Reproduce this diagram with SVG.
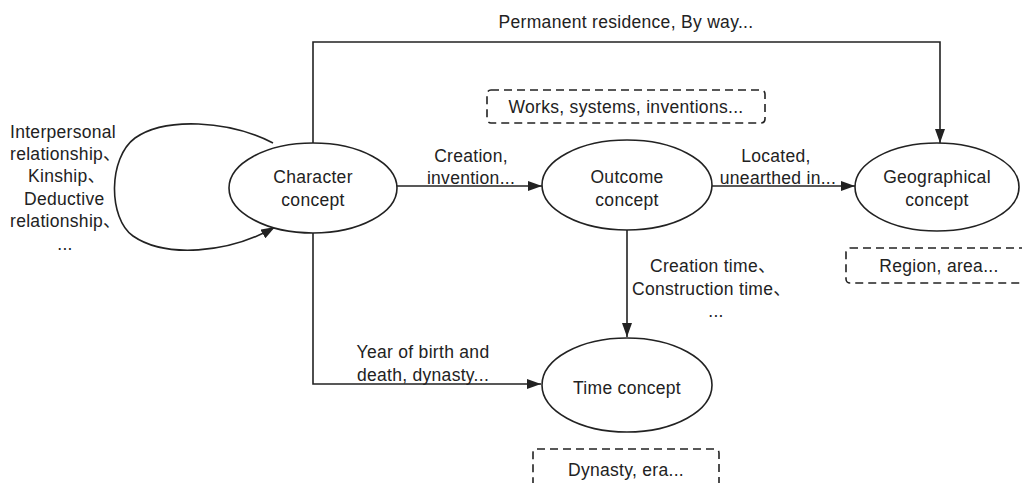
<svg xmlns="http://www.w3.org/2000/svg" width="1022" height="483" viewBox="0 0 1022 483">
<style>
text{font-family:"Liberation Sans","Noto Sans CJK SC",sans-serif;font-size:17.5px;letter-spacing:0.3px;fill:#222;text-anchor:middle}
text.s{text-anchor:start}
.node{fill:#fff;stroke:#222;stroke-width:1.6}
.edge{fill:none;stroke:#222;stroke-width:1.6}
.note{fill:#fff;stroke:#222;stroke-width:1.6;stroke-dasharray:8 5}
</style>
<defs>
<marker id="arr" viewBox="0 0 14 10" refX="14" refY="5" markerWidth="14" markerHeight="10" markerUnits="userSpaceOnUse" orient="auto">
<path d="M0,0 L14,5 L0,10 Z" fill="#222"/>
</marker>
</defs>
<rect width="1022" height="483" fill="#fff"/>
<g id="connectors">
<path class="edge" d="M273,143 C228,120 165,117 135,138 C108,158 108,218 133,236 C165,258 228,254 275,227" marker-end="url(#arr)"/>
<path class="edge" d="M313,143 L313,42 L940,42 L940,143" marker-end="url(#arr)"/>
<path class="edge" d="M397,186 L542,186" marker-end="url(#arr)"/>
<path class="edge" d="M712,186 L855,186" marker-end="url(#arr)"/>
<path class="edge" d="M627,230 L627,337" marker-end="url(#arr)"/>
<path class="edge" d="M313,232 L313,384 L541,384" marker-end="url(#arr)"/>
<text x="626" y="28">Permanent residence, By way...</text>
<text x="471" y="162">Creation,</text>
<text x="471" y="184">invention...</text>
<text x="776" y="162">Located,</text>
<text x="778" y="184">unearthed in...</text>
<text class="s" x="650" y="272">Creation time、</text>
<text class="s" x="632" y="295">Construction time、</text>
<text x="716" y="317">...</text>
<text x="423" y="358">Year of birth and</text>
<text x="423" y="381">death, dynasty...</text>
<text class="s" x="10" y="138">Interpersonal</text>
<text class="s" x="10" y="160">relationship、</text>
<text class="s" x="28" y="182">Kinship、</text>
<text class="s" x="24" y="205">Deductive</text>
<text class="s" x="10" y="227">relationship、</text>
<text x="65" y="250">...</text>
</g>
<g id="character">
<ellipse class="node" cx="313" cy="188" rx="84" ry="45"/>
<text x="313" y="183">Character</text>
<text x="313" y="206">concept</text>
</g>
<g id="outcome">
<ellipse class="node" cx="627" cy="185" rx="85" ry="45"/>
<text x="627" y="183">Outcome</text>
<text x="627" y="206">concept</text>
</g>
<g id="geographical">
<ellipse class="node" cx="937" cy="187" rx="82" ry="44"/>
<text x="937" y="183">Geographical</text>
<text x="937" y="206">concept</text>
</g>
<g id="time">
<ellipse class="node" cx="627" cy="385" rx="85" ry="47"/>
<text x="627" y="394">Time concept</text>
</g>
<g id="note-outcome">
<rect class="note" x="487" y="90" width="278" height="33" rx="4"/>
<text x="626" y="113">Works, systems, inventions...</text>
</g>
<g id="note-geo">
<rect class="note" x="846" y="248" width="190" height="35" rx="4"/>
<text x="939" y="272">Region, area...</text>
</g>
<g id="note-time">
<rect class="note" x="533" y="449" width="186" height="45" rx="4"/>
<text x="626" y="476">Dynasty, era...</text>
</g>
</svg>
